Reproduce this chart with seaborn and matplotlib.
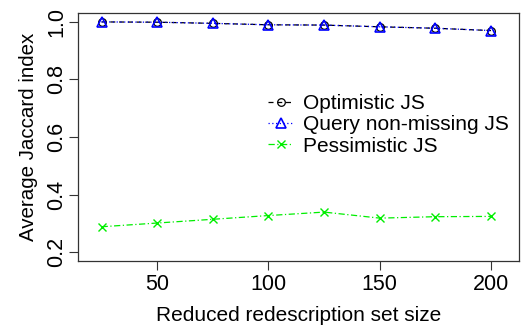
import matplotlib
matplotlib.use("Agg")
import matplotlib.pyplot as plt
import seaborn as sns
import pandas as pd

set_size = [25, 50, 75, 100, 125, 150, 175, 200]
optimistic = [1.000, 0.999, 0.995, 0.990, 0.989, 0.983, 0.978, 0.970]
query_nonmissing = [1.000, 0.999, 0.995, 0.990, 0.989, 0.983, 0.978, 0.970]
pessimistic = [0.288, 0.301, 0.314, 0.327, 0.339, 0.318, 0.323, 0.324]

x_ticks = [50, 100, 150, 200]
y_ticks = [0.2, 0.4, 0.6, 0.8, 1.0]

sns.set_theme(style="ticks")
plt.rcParams["font.family"] = ["Liberation Sans", "DejaVu Sans"]
plt.rcParams["text.color"] = "black"

fig = plt.figure(figsize=(5.25, 3.29), dpi=100)
ax = fig.add_axes([78 / 525, 1 - 261 / 329, (519 - 78) / 525, (261 - 13) / 329])

df = pd.DataFrame({"size": set_size, "opt": optimistic,
                   "qnm": query_nonmissing, "pes": pessimistic})

sns.lineplot(data=df, x="size", y="opt", ax=ax, color="black", linewidth=0.9,
             linestyle=(0, (4, 3)), marker="o", markersize=5.5, markerfacecolor="none",
             markeredgecolor="black", markeredgewidth=0.9, label="Optimistic JS")
sns.lineplot(data=df, x="size", y="qnm", ax=ax, color="blue", linewidth=0.9,
             linestyle=(0, (1, 2)), marker="^", markersize=7, markerfacecolor="none",
             markeredgecolor="blue", markeredgewidth=1.2, label="Query non-missing JS")
sns.lineplot(data=df, x="size", y="pes", ax=ax, color="#00ee00", linewidth=0.9,
             linestyle=(0, (5, 2, 1, 2)), marker="x", markersize=6,
             markeredgecolor="#00ee00", markeredgewidth=1.0, label="Pessimistic JS")

ax.set_xlim(14.4, 212.6)
ax.set_ylim(0.169, 1.031)
ax.set_xticks(x_ticks)
ax.set_yticks(y_ticks)
ax.set_yticklabels([f"{v:.1f}" for v in y_ticks], rotation=90, va="center")
ax.tick_params(axis="both", labelsize=15.5, length=6.5, width=0.8, color="#333333",
               direction="out", labelcolor="black")
ax.tick_params(axis="y", pad=1)
ax.tick_params(axis="x", pad=3)
ax.set_xlabel("Reduced redescription set size", fontsize=15, labelpad=8, color="black")
ax.set_ylabel("Average Jaccard index", fontsize=14.8, labelpad=6, color="black")
for s in ax.spines.values():
    s.set_linewidth(0.9)
    s.set_color("#333333")

leg = ax.legend(loc="upper left", bbox_to_anchor=(0.431, 0.672), frameon=False,
                fontsize=15, handlelength=1.2, handletextpad=0.5,
                labelspacing=0.1, borderaxespad=0, borderpad=0)
for t in leg.get_texts():
    t.set_color("black")

fig.savefig("out.png", dpi=100)
